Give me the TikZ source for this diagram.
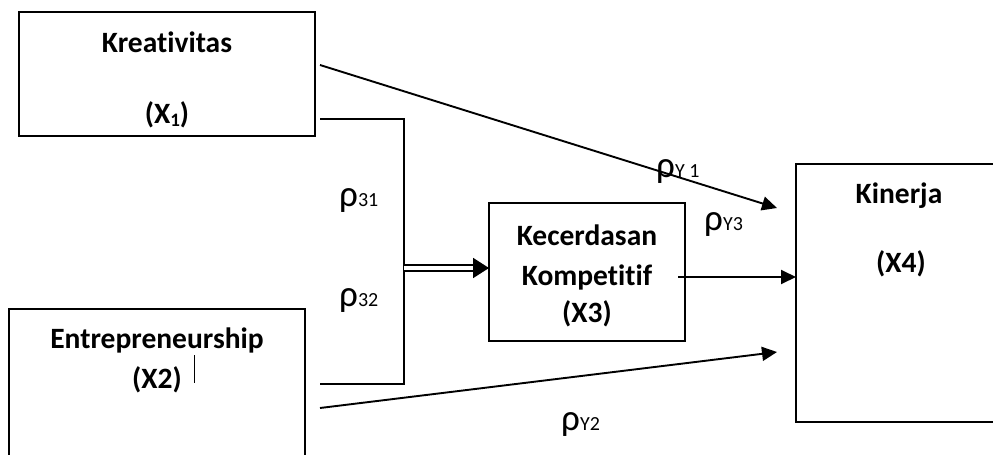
\documentclass[tikz,border=0pt]{standalone}
\usepackage{fontspec}
\setmainfont{Carlito}[Ligatures=NoCommon]
\usepackage{tikz}
\usetikzlibrary{calc, arrows.meta, positioning}

\newcommand{\rsub}[1]{\raisebox{-0.03em}{\fontsize{20}{20}\selectfont #1}}
\newcommand{\xsub}[1]{\raisebox{-0.12em}{\fontsize{19}{19}\selectfont #1}}
\newcommand{\prho}{{\fontsize{37}{37}\selectfont ρ}}

\tikzset{
    varbox/.style = {draw, line width=1.7pt, inner sep=0pt, outer sep=0pt},
    varname/.style = {anchor=base, inner sep=0pt, font=\bfseries\fontsize{29.5}{36}\selectfont},
    coef/.style = {anchor=base west, inner sep=0pt, font=\fontsize{29.5}{36}\selectfont},
    path/.style = {line width=1.9pt, -{Triangle[length=15pt, width=14pt]}}
}

\begin{document}
\begin{tikzpicture} [x=1pt, y=-1pt]
        \useasboundingbox (0,0) rectangle (993,455);
        \node[varbox, minimum width=296pt, minimum height=124pt] (x1) at (167,74) {};
        \node[varbox, minimum width=296pt, minimum height=170pt] (x2) at (157,394) {};
        \node[varbox, minimum width=196pt, minimum height=138pt] (x3) at (587,272) {};
        \node[varbox, minimum width=208pt, minimum height=258pt] (x4) at (900,293) {};

        \node[varname] (n1a) at (167,52) {Kreativitas};
        \node[varname] (n1b) at (167,123) {(X\xsub{1})};
        \node[varname] (n2a) at (157,348) {Entrepreneurship};
        \node[varname] (n2b) at (157,388) {(X2)};
        \node[varname] (n3a) at (587,245) {Kecerdasan};
        \node[varname] (n3b) at (587,285) {Kompetitif};
        \node[varname] (n3c) at (587,322) {(X3)};
        \node[varname] (n4a) at (899,203) {Kinerja};
        \node[varname] (n4b) at (901,272) {(X4)};

        \coordinate (x1top) at (320,65);
        \coordinate (x1bot) at (320,119);
        \coordinate (x2top) at (320,384);
        \coordinate (x2bot) at (320,408);
        \coordinate (jn) at (404,268);
        \coordinate (x3out) at (678,277);
        \coordinate (x4a) at (777,208);
        \coordinate (x4b) at (777,352);

        \draw[line width=1.9pt] (x1bot) -| (jn) |- (x2top);
        \draw[line width=1.9pt, double, double distance=3.4pt, shorten >=14pt] (jn) -- (x3.west |- jn);
        \draw[-{Triangle[length=16pt, width=20pt]}, line width=1.9pt] ($(x3.west |- jn)+(-16,0)$) -- (x3.west |- jn);
        \draw[path] (x1top) -- (x4a);
        \draw[path] (x2bot) -- (x4b);
        \draw[path] (x3out) -- (x3out -| x4.west);
        \draw[line width=1pt] (194,355) -- (194,383);

        \node[coef] (p31) at (339,206) {\prho\rsub{31}};
        \node[coef] (p32) at (339,306) {\prho\rsub{32}};
        \node[coef] (py1) at (656,177) {\prho\rsub{Y 1}};
        \node[coef] (py3) at (704,230) {\prho\rsub{Y3}};
        \node[coef] (py2) at (561,430) {\prho\rsub{Y2}};
    \end{tikzpicture}
\end{document}
